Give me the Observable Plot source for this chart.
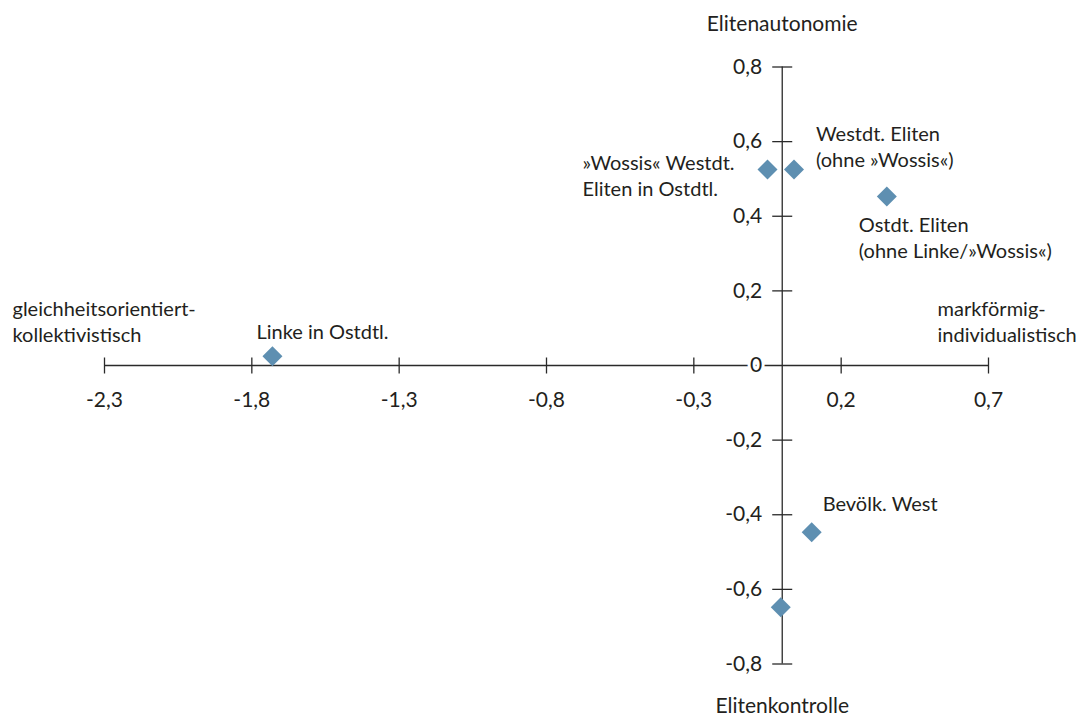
<!DOCTYPE html>
<html><head><meta charset="utf-8">
<script src="https://cdn.jsdelivr.net/npm/d3@7"></script>
<script src="https://cdn.jsdelivr.net/npm/@observablehq/plot@0.6"></script>
<style>body{margin:0;background:#fff;}</style>
</head><body><div id="chart"></div>
<script>
// ---- data ----
const names = ["Linke in Ostdtl.", "»Wossis« Westdt.\nEliten in Ostdtl.", "Westdt. Eliten\n(ohne »Wossis«)", "Ostdt. Eliten\n(ohne Linke/»Wossis«)", "Bevölk. West", ""];
const xValues = [-1.73, -0.05, 0.04, 0.355, 0.10, -0.005];
const yValues = [0.025, 0.525, 0.525, 0.453, -0.447, -0.648];
const xTicks = [-2.3, -1.8, -1.3, -0.8, -0.3, 0.2, 0.7];
const xTickLabels = ["-2,3", "-1,8", "-1,3", "-0,8", "-0,3", "0,2", "0,7"];
const yTicks = [-0.8, -0.6, -0.4, -0.2, 0, 0.2, 0.4, 0.6, 0.8];
const yTickLabels = ["-0,8", "-0,6", "-0,4", "-0,2", "0", "0,2", "0,4", "0,6", "0,8"];
const axisTitles = {top: "Elitenautonomie", bottom: "Elitenkontrolle", left: "gleichheitsorientiert-\nkollektivistisch", right: "markförmig-\nindividualistisch"};

const points = names.map((name, i) => ({name, x: xValues[i], y: yValues[i]}));
const ink = "#231f20";
const axisInk = "#2a2a2a";
const vTick = {draw(ctx) { ctx.moveTo(0, -8); ctx.lineTo(0, 8); }};
const hTick = {draw(ctx) { ctx.moveTo(-10, 0); ctx.lineTo(10, 0); }};
const lbl = (name, opts) => Plot.text(points.filter(d => d.name === name), {x: "x", y: "y", text: "name", fill: ink, lineHeight: 1.3, ...opts});

const chart = Plot.plot({
  width: 1080, height: 716,
  marginLeft: 104, marginRight: 92, marginTop: 66.5, marginBottom: 52.5,
  style: {fontFamily: "Lato, sans-serif", fontSize: "20px", background: "#fff", color: ink},
  x: {domain: [xTicks[0], xTicks[xTicks.length - 1]], axis: null},
  y: {domain: [yTicks[0], yTicks[yTicks.length - 1]], axis: null},
  marks: [
    Plot.ruleY([0], {x1: xTicks[0], x2: xTicks[xTicks.length - 1], stroke: axisInk, strokeWidth: 1.3}),
    Plot.ruleX([0], {y1: yTicks[0], y2: yTicks[yTicks.length - 1], stroke: axisInk, strokeWidth: 1.3}),
    Plot.dot(xTicks, {x: d => d, y: () => 0, symbol: vTick, stroke: axisInk, fill: "none", strokeWidth: 1.3}),
    Plot.dot(yTicks.filter(d => d !== 0), {x: () => 0, y: d => d, symbol: hTick, stroke: axisInk, fill: "none", strokeWidth: 1.3}),
    Plot.text(xTicks, {x: d => d, y: () => 0, text: (d, i) => xTickLabels[i], dy: 35, fill: ink, fontSize: 21}),
    Plot.text(yTicks, {x: () => 0, y: d => d, text: (d, i) => yTickLabels[yTicks.indexOf(d)], textAnchor: "end", dx: -20, fill: ink, stroke: "white", strokeWidth: 6, fontSize: 21}),
    Plot.text([axisTitles.top], {x: () => 0, y: () => yTicks[yTicks.length - 1], text: d => d, dy: -43, fill: ink, fontSize: 21}),
    Plot.text([axisTitles.bottom], {x: () => 0, y: () => yTicks[0], text: d => d, dy: 42, fill: ink, fontSize: 21}),
    Plot.text([axisTitles.left], {x: () => xTicks[0], y: () => 0, text: d => d, textAnchor: "start", dx: -92, dy: -45, lineHeight: 1.3, fill: ink}),
    Plot.text([axisTitles.right], {x: () => xTicks[xTicks.length - 1], y: () => 0, text: d => d, textAnchor: "start", dx: -51, dy: -45, lineHeight: 1.3, fill: ink}),
    Plot.dot(points, {x: "x", y: "y", symbol: "diamond2", r: 9, fill: "#5e8fb1", stroke: "none"}),
    lbl(names[0], {textAnchor: "start", dx: -16, dy: -26}),
    lbl(names[1], {textAnchor: "start", dx: -185, dy: 5}),
    lbl(names[2], {textAnchor: "start", dx: 22, dy: -24}),
    lbl(names[3], {textAnchor: "start", dx: -28, dy: 40}),
    lbl(names[4], {textAnchor: "start", dx: 11, dy: -30})
  ]
});
document.getElementById("chart").append(chart);
</script>
</body></html>
